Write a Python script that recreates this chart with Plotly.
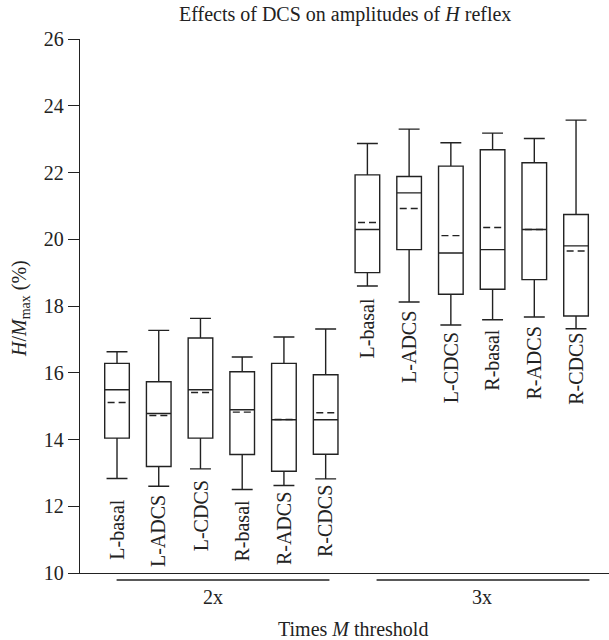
import plotly.graph_objects as go

# ---- data ----
categories = ["L-basal", "L-ADCS", "L-CDCS", "R-basal", "R-ADCS", "R-CDCS",
              "L-basal", "L-ADCS", "L-CDCS", "R-basal", "R-ADCS", "R-CDCS"]
groups = ["2x", "3x"]
upper = [16.63, 17.27, 17.63, 16.47, 17.07, 17.31,
         22.87, 23.30, 22.89, 23.18, 23.02, 23.57]
q3 = [16.28, 15.73, 17.04, 16.03, 16.28, 15.94,
      21.93, 21.88, 22.19, 22.68, 22.29, 20.74]
median = [15.49, 14.78, 15.49, 14.89, 14.59, 14.59,
          20.29, 21.39, 19.59, 19.69, 20.29, 19.80]
mean = [15.11, 14.72, 15.41, 14.82, 14.60, 14.80,
        20.50, 20.92, 20.11, 20.35, 20.29, 19.65]
q1 = [14.04, 13.19, 14.04, 13.55, 13.05, 13.56,
      19.00, 19.69, 18.35, 18.50, 18.79, 17.70]
lower = [12.83, 12.60, 13.12, 12.50, 12.62, 12.82,
         18.60, 18.12, 17.43, 17.59, 17.67, 17.32]
yticks = [10, 12, 14, 16, 18, 20, 22, 24, 26]

# ---- layout constants ----
W, H = 609, 640
ML, MR, MT, MB = 80, 0, 39, 67
XMIN, XMAX = -0.887, 11.79
BOXW = 0.59
MEAN_INSET = 0.07
FONT = "Liberation Serif"
INK = "#222222"
LW = 1.4
label_bottom = [10.34, 10.11, 10.59, 10.29, 10.19, 10.41,
                16.38, 15.64, 15.04, 15.39, 15.13, 14.98]
group_span = [(-0.01, 5.09), (6.22, 11.32)]
group_label_x = [2.31, 8.74]

pos = list(range(len(categories)))

fig = go.Figure()
fig.add_trace(go.Box(
    x=pos, q1=q1, median=median, q3=q3,
    lowerfence=lower, upperfence=upper,
    boxmean=False, boxpoints=False,
    width=BOXW, whiskerwidth=0.85,
    line=dict(color=INK, width=LW),
    fillcolor="rgba(255,255,255,0)",
    showlegend=False, hoverinfo="skip",
))

# mean lines (dashed) derived from the data
mx, my = [], []
for i, m in zip(pos, mean):
    mx += [i - BOXW / 2 + MEAN_INSET, i + BOXW / 2 - MEAN_INSET, None]
    my += [m, m, None]
fig.add_trace(go.Scatter(x=mx, y=my, mode="lines",
                         line=dict(color=INK, width=LW, dash="7px,4px"),
                         showlegend=False, hoverinfo="skip"))

annotations = []
for i, lab in enumerate(categories):
    annotations.append(dict(
        x=i, y=label_bottom[i], xref="x", yref="y", text=lab,
        textangle=-90, showarrow=False, xanchor="center", yanchor="bottom",
        font=dict(family=FONT, size=20, color=INK),
    ))

def px_to_paper_x(px):
    return (px - ML) / (W - ML - MR)

def px_to_paper_y(py):
    return (H - MB - py) / (H - MT - MB)

def data_to_paper_x(xd):
    return (xd - XMIN) / (XMAX - XMIN)

shapes = []
for (a, b), g, gx in zip(group_span, groups, group_label_x):
    shapes.append(dict(type="line", xref="paper", yref="paper",
                       x0=data_to_paper_x(a), x1=data_to_paper_x(b),
                       y0=px_to_paper_y(580), y1=px_to_paper_y(580),
                       line=dict(color=INK, width=LW)))
    annotations.append(dict(x=data_to_paper_x(gx), y=px_to_paper_y(597),
                            xref="paper", yref="paper", text=g, showarrow=False,
                            xanchor="center", yanchor="middle",
                            font=dict(family=FONT, size=20, color=INK)))

annotations.append(dict(x=px_to_paper_x(353), y=px_to_paper_y(629), xref="paper", yref="paper",
                        text="Times <i>M</i> threshold", showarrow=False,
                        xanchor="center", yanchor="middle",
                        font=dict(family=FONT, size=20, color=INK)))
annotations.append(dict(x=px_to_paper_x(344.5), y=px_to_paper_y(14), xref="paper", yref="paper",
                        text="Effects of DCS on amplitudes of <i>H</i> reflex", showarrow=False,
                        xanchor="center", yanchor="middle",
                        font=dict(family=FONT, size=20, color=INK)))
annotations.append(dict(x=px_to_paper_x(20), y=px_to_paper_y(309), xref="paper", yref="paper",
                        text="<i>H</i>/<i>M</i><sub>max</sub> (%)", showarrow=False,
                        textangle=-90, xanchor="center", yanchor="middle",
                        font=dict(family=FONT, size=20, color=INK)))

fig.update_layout(
    width=W, height=H,
    margin=dict(l=ML, r=MR, t=MT, b=MB, pad=0),
    paper_bgcolor="white", plot_bgcolor="white",
    font=dict(family=FONT, size=20, color=INK),
    xaxis=dict(range=[XMIN, XMAX], showline=True, linecolor=INK, linewidth=LW,
               showgrid=False, zeroline=False, showticklabels=False, ticks=""),
    yaxis=dict(range=[10, 26], tickvals=yticks, showline=True, linecolor=INK, linewidth=LW,
               showgrid=False, zeroline=False, ticks="outside", ticklen=11, tickwidth=LW,
               tickcolor=INK, tickfont=dict(family=FONT, size=20, color=INK)),
    annotations=annotations, shapes=shapes,
)

fig.write_html("out.html")
